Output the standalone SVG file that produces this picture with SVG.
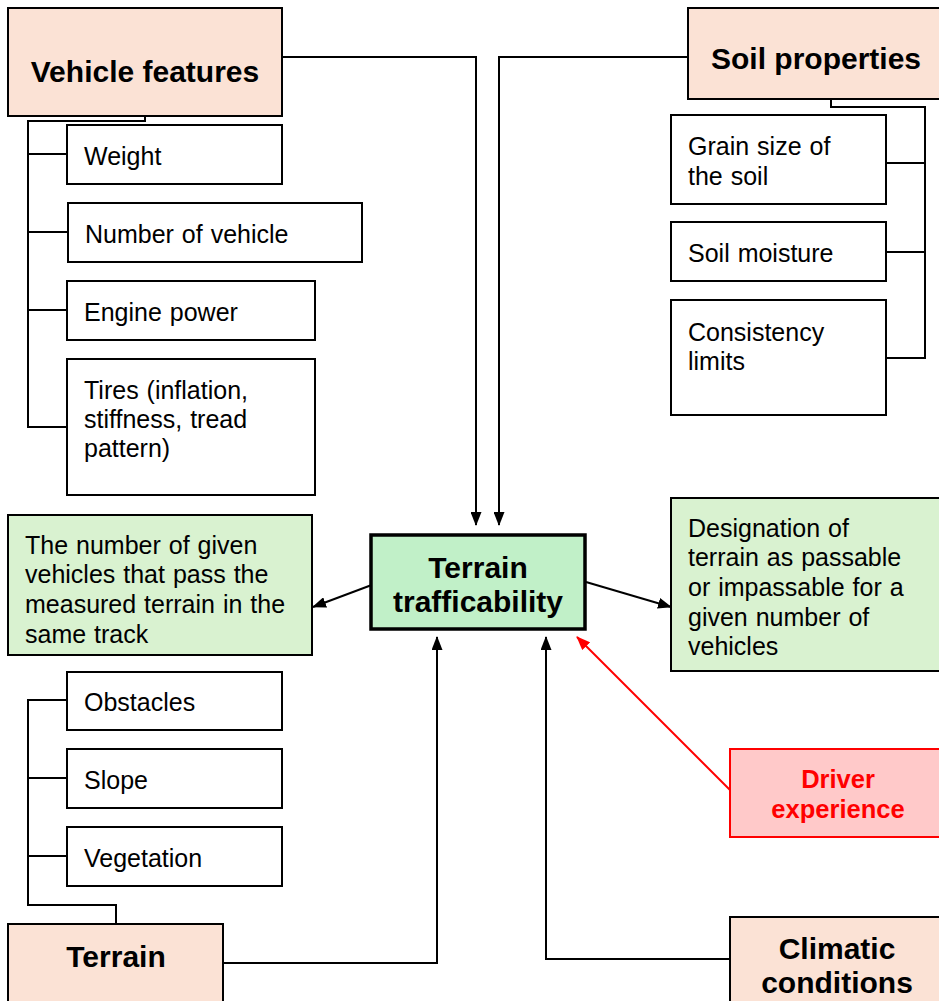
<svg xmlns="http://www.w3.org/2000/svg" width="939" height="1001" viewBox="0 0 939 1001">
<defs>
<marker id="ab" viewBox="0 0 14 11" refX="13" refY="5.5" markerWidth="14" markerHeight="11" markerUnits="userSpaceOnUse" orient="auto"><path d="M0,0 L14,5.5 L0,11 Z" fill="#000"/></marker>
<marker id="ar" viewBox="0 0 14 11" refX="13" refY="5.5" markerWidth="14" markerHeight="11" markerUnits="userSpaceOnUse" orient="auto"><path d="M0,0 L14,5.5 L0,11 Z" fill="#ff0000"/></marker>
<style>
.hd{fill:#fbe2d5;stroke:#000;stroke-width:2}
.it{fill:#fff;stroke:#000;stroke-width:2}
.gr{fill:#d9f2d0;stroke:#000;stroke-width:2}
.tt{fill:#c1f0c8;stroke:#000;stroke-width:3.5}
.dr{fill:#ffc9c9;stroke:#ff0000;stroke-width:2}
.ln{fill:none;stroke:#000;stroke-width:2}
.lr{fill:none;stroke:#ff0000;stroke-width:2}
text{font-family:"Liberation Sans",Arial,sans-serif}
.t{font-size:25px;fill:#000;word-spacing:1px}
.b{font-size:30px;font-weight:bold;fill:#000;text-anchor:middle}
.br{font-size:25.5px;font-weight:bold;fill:#ff0000;text-anchor:middle}
</style>
</defs>
<g id="connectors">
<path class="ln" d="M282,57 H476 V525" marker-end="url(#ab)"/>
<path class="ln" d="M688,57 H499 V525" marker-end="url(#ab)"/>
<path class="ln" d="M145,116 V121 H28 V427 H67 M28,154 H67 M28,232 H68 M28,310 H67"/>
<path class="ln" d="M831,99 V107 H925 V358 H886 M886,163 H925 M886,252 H925"/>
<path class="ln" d="M116,924 V905 H28 V700 H67 M28,778 H67 M28,856 H67"/>
<path class="ln" d="M223,963 H437 V637" marker-end="url(#ab)"/>
<path class="ln" d="M730,959 H546 V637" marker-end="url(#ab)"/>
<path class="ln" d="M377,583 L313,607" marker-end="url(#ab)"/>
<path class="ln" d="M586,582 L671,607" marker-end="url(#ab)"/>
<path class="lr" d="M730,790 L577,637" marker-end="url(#ar)"/>
</g>
<g id="vehicle-features"><rect class="hd" x="8" y="8" width="274" height="108"/><text class="b" x="145" y="82">Vehicle features</text></g>
<g id="weight"><rect class="it" x="67" y="125" width="215" height="59"/><text class="t" x="84" y="165">Weight</text></g>
<g id="number-of-vehicle"><rect class="it" x="68" y="203" width="294" height="59"/><text class="t" x="85" y="243">Number of vehicle</text></g>
<g id="engine-power"><rect class="it" x="67" y="281" width="248" height="59"/><text class="t" x="84" y="321">Engine power</text></g>
<g id="tires"><rect class="it" x="67" y="359" width="248" height="136"/><text class="t" x="84" y="399">Tires (inflation,</text><text class="t" x="84" y="428">stiffness, tread</text><text class="t" x="84" y="457">pattern)</text></g>
<g id="soil-properties"><rect class="hd" x="688" y="8" width="260" height="91"/><text class="b" x="816" y="69">Soil properties</text></g>
<g id="grain-size"><rect class="it" x="671" y="115" width="215" height="89"/><text class="t" x="688" y="155">Grain size of</text><text class="t" x="688" y="185">the soil</text></g>
<g id="soil-moisture"><rect class="it" x="671" y="222" width="215" height="59"/><text class="t" x="688" y="262">Soil moisture</text></g>
<g id="consistency-limits"><rect class="it" x="671" y="300" width="215" height="115"/><text class="t" x="688" y="341">Consistency</text><text class="t" x="688" y="370">limits</text></g>
<g id="terrain-trafficability"><rect class="tt" x="371" y="535" width="214" height="94"/><text class="b" x="478" y="578">Terrain</text><text class="b" x="478" y="612">trafficability</text></g>
<g id="number-of-given-vehicles"><rect class="gr" x="8" y="515" width="304" height="140"/><text class="t" x="25" y="554">The number of given</text><text class="t" x="25" y="583">vehicles that pass the</text><text class="t" x="25" y="613">measured terrain in the</text><text class="t" x="25" y="643">same track</text></g>
<g id="designation"><rect class="gr" x="671" y="498" width="277" height="173"/><text class="t" x="688" y="537">Designation of</text><text class="t" x="688" y="566">terrain as passable</text><text class="t" x="688" y="596">or impassable for a</text><text class="t" x="688" y="626">given number of</text><text class="t" x="688" y="655">vehicles</text></g>
<g id="obstacles"><rect class="it" x="67" y="672" width="215" height="58"/><text class="t" x="84" y="711">Obstacles</text></g>
<g id="slope"><rect class="it" x="67" y="749" width="215" height="59"/><text class="t" x="84" y="789">Slope</text></g>
<g id="vegetation"><rect class="it" x="67" y="827" width="215" height="59"/><text class="t" x="84" y="867">Vegetation</text></g>
<g id="terrain"><rect class="hd" x="8" y="924" width="215" height="90"/><text class="b" x="116" y="967">Terrain</text></g>
<g id="driver-experience"><rect class="dr" x="730" y="749" width="218" height="88"/><text class="br" x="838" y="788">Driver</text><text class="br" x="838" y="818">experience</text></g>
<g id="climatic-conditions"><rect class="hd" x="730" y="917" width="218" height="95"/><text class="b" x="837" y="959">Climatic</text><text class="b" x="837" y="993">conditions</text></g>
</svg>
